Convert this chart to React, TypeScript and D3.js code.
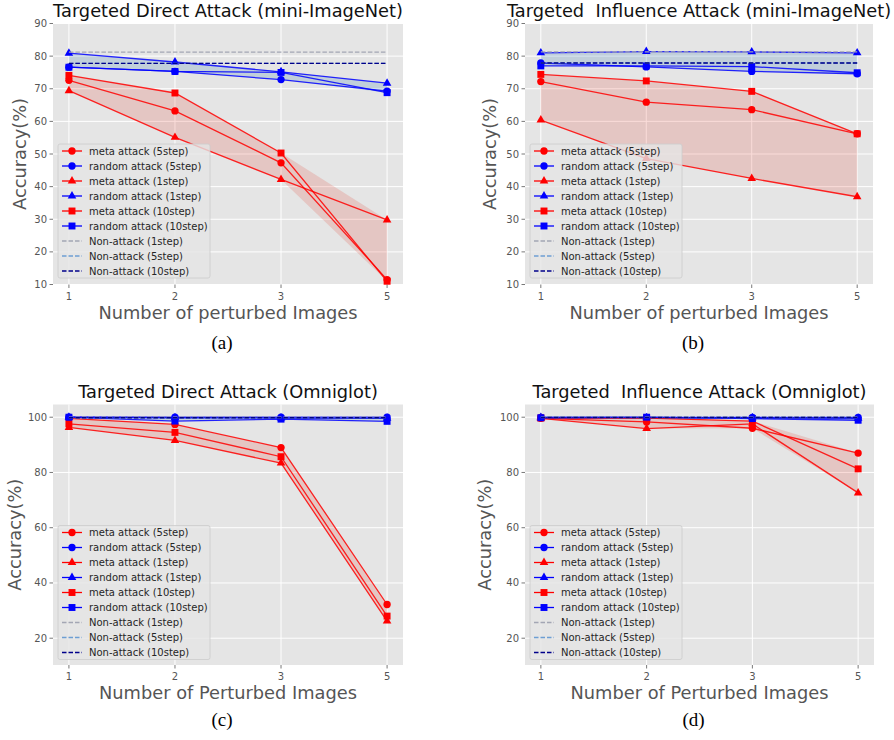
import React from 'react';
import * as d3 from 'd3';

const steps = ['1', '2', '3', '5'];

// (a) Targeted Direct Attack (mini-ImageNet)
const aMeta5 = [72.6, 63.2, 47.3, 11.5];
const aRandom5 = [76.6, 75.3, 72.8, 69.3];
const aMeta1 = [69.4, 55.1, 42.2, 29.8];
const aRandom1 = [80.9, 78.2, 75.2, 71.7];
const aMeta10 = [74.1, 68.7, 50.3, 11.0];
const aRandom10 = [76.6, 75.3, 75.0, 68.8];
const aNonAttack = [81.2, 77.8, 77.8];

// (b) Targeted Influence Attack (mini-ImageNet)
const bMeta5 = [72.2, 65.9, 63.6, 56.2];
const bRandom5 = [77.9, 76.7, 75.3, 74.6];
const bMeta1 = [60.4, 48.6, 42.5, 36.9];
const bRandom1 = [81.0, 81.4, 81.3, 81.0];
const bMeta10 = [74.4, 72.4, 69.2, 56.2];
const bRandom10 = [77.0, 77.0, 76.8, 74.9];
const bNonAttack = [81.3, 77.9, 77.9];

// (c) Targeted Direct Attack (Omniglot)
const cMeta5 = [99.6, 97.4, 89.0, 32.2];
const cRandom5 = [100, 100, 100, 100];
const cMeta1 = [96.3, 91.6, 83.4, 26.2];
const cRandom1 = [100, 99.8, 99.7, 99.6];
const cMeta10 = [97.6, 94.5, 85.7, 28.0];
const cRandom10 = [100, 98.6, 99.3, 98.5];
const cNonAttack = [100, 99.8, 99.8];

// (d) Targeted Influence Attack (Omniglot)
const dMeta5 = [99.6, 98.3, 96.0, 87.0];
const dRandom5 = [99.9, 99.9, 99.9, 99.9];
const dMeta1 = [99.6, 95.9, 97.6, 72.6];
const dRandom1 = [99.9, 99.8, 99.8, 99.6];
const dMeta10 = [99.7, 99.7, 98.6, 81.3];
const dRandom10 = [99.8, 100, 99.5, 98.9];
const dNonAttack = [100, 99.9, 99.9];

const miniTicks = [10, 20, 30, 40, 50, 60, 70, 80, 90];
const omniTicks = [20, 40, 60, 80, 100];

const RED = '#ff0000';
const BLUE = '#0000ff';
const NON_COLORS = ['#a3a6b4', '#6d9ed3', '#00008b'];
const NON_LABELS = ['Non-attack (1step)', 'Non-attack (5step)', 'Non-attack (10step)'];
const FONT = '"DejaVu Sans", sans-serif';

const symbolPath = (type: d3.SymbolType) => {
    const size = type === d3.symbolCircle ? 42 : type === d3.symbolSquare ? 48 : 32;
    return d3.symbol().type(type).size(size)()!;
};

interface PanelProps {
    title: string;
    xLabel: string;
    caption: string;
    left: number;
    top: number;
    right: number;
    bottom: number;
    yDomain: [number, number];
    yTicks: number[];
    yLabelX: number;
    legendY: number;
    captionY: number;
    meta5: number[];
    random5: number[];
    meta1: number[];
    random1: number[];
    meta10: number[];
    random10: number[];
    nonAttack: number[];
}

const Panel: React.FC<PanelProps> = (p) => {
    const x = d3.scaleLinear().domain([-0.15, 3.15]).range([p.left, p.right]);
    const y = d3.scaleLinear().domain(p.yDomain).range([p.bottom, p.top]);

    const series = [
        { label: 'meta attack (5step)', color: RED, symbol: d3.symbolCircle, values: p.meta5 },
        { label: 'random attack (5step)', color: BLUE, symbol: d3.symbolCircle, values: p.random5 },
        { label: 'meta attack (1step)', color: RED, symbol: d3.symbolTriangle, values: p.meta1 },
        { label: 'random attack (1step)', color: BLUE, symbol: d3.symbolTriangle, values: p.random1 },
        { label: 'meta attack (10step)', color: RED, symbol: d3.symbolSquare, values: p.meta10 },
        { label: 'random attack (10step)', color: BLUE, symbol: d3.symbolSquare, values: p.random10 },
    ];

    const line = d3
        .line<number>()
        .x((_, i) => x(i))
        .y((d) => y(d));

    // min/max envelope of three series
    const band = (groups: number[][]) =>
        d3
            .area<number>()
            .x((_, i) => x(i))
            .y0((_, i) => y(d3.min(groups, (g) => g[i])!))
            .y1((_, i) => y(d3.max(groups, (g) => g[i])!))(steps.map(() => 0));

    const cx = (p.left + p.right) / 2;
    const cy = (p.top + p.bottom) / 2;
    const legendX = p.left + 5;
    const legendTop = p.legendY;
    const rowH = 15;

    return (
        <g fontFamily={FONT}>
            <rect x={p.left} y={p.top} width={p.right - p.left} height={p.bottom - p.top} fill="#e5e5e5" />
            {p.yTicks.map((t) => (
                <line key={'gy' + t} x1={p.left} x2={p.right} y1={y(t)} y2={y(t)} stroke="#fff" strokeWidth={1} />
            ))}
            {steps.map((_, i) => (
                <line key={'gx' + i} x1={x(i)} x2={x(i)} y1={p.top} y2={p.bottom} stroke="#fff" strokeWidth={1} />
            ))}
            {p.yTicks.map((t) => (
                <g key={'ty' + t}>
                    <line x1={p.left - 3.5} x2={p.left} y1={y(t)} y2={y(t)} stroke="#555" strokeWidth={0.8} />
                    <text x={p.left - 6} y={y(t)} dy="0.35em" textAnchor="end" fontSize={10} fill="#555">
                        {t}
                    </text>
                </g>
            ))}
            {steps.map((s, i) => (
                <g key={'tx' + i}>
                    <line x1={x(i)} x2={x(i)} y1={p.bottom} y2={p.bottom + 3.5} stroke="#555" strokeWidth={0.8} />
                    <text x={x(i)} y={p.bottom + 15} textAnchor="middle" fontSize={10} fill="#555">
                        {s}
                    </text>
                </g>
            ))}

            <path d={band([p.meta5, p.meta1, p.meta10])!} fill="#e03020" fillOpacity={0.17} />
            <path d={band([p.random5, p.random1, p.random10])!} fill="#4682b4" fillOpacity={0.22} />

            {series.map((s) => (
                <g key={s.label}>
                    <path d={line(s.values)!} fill="none" stroke={s.color} strokeWidth={1.3} strokeOpacity={0.85} />
                    {s.values.map((v, i) => (
                        <path key={i} d={symbolPath(s.symbol)} transform={`translate(${x(i)},${y(v)})`} fill={s.color} />
                    ))}
                </g>
            ))}
            {p.nonAttack.map((v, i) => (
                <line
                    key={'na' + i}
                    x1={x(0)}
                    x2={x(3)}
                    y1={y(v)}
                    y2={y(v)}
                    stroke={NON_COLORS[i]}
                    strokeWidth={1.3}
                    strokeDasharray="4.5 2"
                />
            ))}

            {/* legend */}
            <rect
                x={p.left + 5}
                y={legendTop - 7}
                width={152}
                height={134}
                rx={2}
                fill="#e5e5e5"
                fillOpacity={0.8}
                stroke="#cccccc"
                strokeWidth={0.8}
            />
            {series.map((s, i) => (
                <g key={'lg' + i} transform={`translate(${legendX}, ${legendTop + i * rowH})`}>
                    <line x1={4} x2={24} y1={0} y2={0} stroke={s.color} strokeWidth={1.3} />
                    <path d={symbolPath(s.symbol)} transform="translate(14,0)" fill={s.color} />
                    <text x={31} y={0} dy="0.35em" fontSize={10} fill="#262626">
                        {s.label}
                    </text>
                </g>
            ))}
            {NON_LABELS.map((l, i) => (
                <g key={'ln' + i} transform={`translate(${legendX}, ${legendTop + (i + 6) * rowH})`}>
                    <line x1={4} x2={24} y1={0} y2={0} stroke={NON_COLORS[i]} strokeWidth={1.3} strokeDasharray="4.5 2" />
                    <text x={31} y={0} dy="0.35em" fontSize={10} fill="#262626">
                        {l}
                    </text>
                </g>
            ))}

            <text x={cx} y={p.top - 7} textAnchor="middle" fontSize={17.8} fill="#111" style={{ whiteSpace: 'pre' }}>
                {p.title}
            </text>
            <text x={cx} y={p.bottom + 34} textAnchor="middle" fontSize={17.8} fill="#555">
                {p.xLabel}
            </text>
            <text
                transform={`translate(${p.yLabelX}, ${cy}) rotate(-90)`}
                dy="0.35em"
                textAnchor="middle"
                fontSize={17.8}
                fill="#555"
            >
                Accuracy(%)
            </text>
            <text
                x={cx - 6}
                y={p.captionY}
                textAnchor="middle"
                fontSize={19}
                fontFamily='"Liberation Serif", "Times New Roman", serif'
                fill="#000"
            >
                {p.caption}
            </text>
        </g>
    );
};

export default function App() {
    return (
        <div style={{ position: 'absolute', left: 0, top: 0 }}>
            <svg width={894} height={740} viewBox="0 0 894 740" style={{ display: 'block', background: '#fff' }}>
                <Panel
                    title="Targeted Direct Attack (mini-ImageNet)"
                    xLabel="Number of perturbed Images"
                    caption="(a)"
                    left={53}
                    top={23.5}
                    right={403}
                    bottom={284.5}
                    yDomain={[10, 90]}
                    yTicks={miniTicks}
                    yLabelX={20}
                    legendY={151}
                    captionY={349}
                    meta5={aMeta5}
                    random5={aRandom5}
                    meta1={aMeta1}
                    random1={aRandom1}
                    meta10={aMeta10}
                    random10={aRandom10}
                    nonAttack={aNonAttack}
                />
                <Panel
                    title={'Targeted  Influence Attack (mini-ImageNet)'}
                    xLabel="Number of perturbed Images"
                    caption="(b)"
                    left={525}
                    top={23.5}
                    right={873}
                    bottom={284.5}
                    yDomain={[10, 90]}
                    yTicks={miniTicks}
                    yLabelX={490}
                    legendY={151}
                    captionY={349}
                    meta5={bMeta5}
                    random5={bRandom5}
                    meta1={bMeta1}
                    random1={bRandom1}
                    meta10={bMeta10}
                    random10={bRandom10}
                    nonAttack={bNonAttack}
                />
                <Panel
                    title="Targeted Direct Attack (Omniglot)"
                    xLabel="Number of Perturbed Images"
                    caption="(c)"
                    left={53}
                    top={404.5}
                    right={403}
                    bottom={665}
                    yDomain={[10.3, 104.6]}
                    yTicks={omniTicks}
                    yLabelX={14.5}
                    legendY={532.5}
                    captionY={726}
                    meta5={cMeta5}
                    random5={cRandom5}
                    meta1={cMeta1}
                    random1={cRandom1}
                    meta10={cMeta10}
                    random10={cRandom10}
                    nonAttack={cNonAttack}
                />
                <Panel
                    title={'Targeted  Influence Attack (Omniglot)'}
                    xLabel="Number of Perturbed Images"
                    caption="(d)"
                    left={525}
                    top={404.5}
                    right={874}
                    bottom={665}
                    yDomain={[10.3, 104.6]}
                    yTicks={omniTicks}
                    yLabelX={485}
                    legendY={532.5}
                    captionY={726}
                    meta5={dMeta5}
                    random5={dRandom5}
                    meta1={dMeta1}
                    random1={dRandom1}
                    meta10={dMeta10}
                    random10={dRandom10}
                    nonAttack={dNonAttack}
                />
            </svg>
        </div>
    );
}
